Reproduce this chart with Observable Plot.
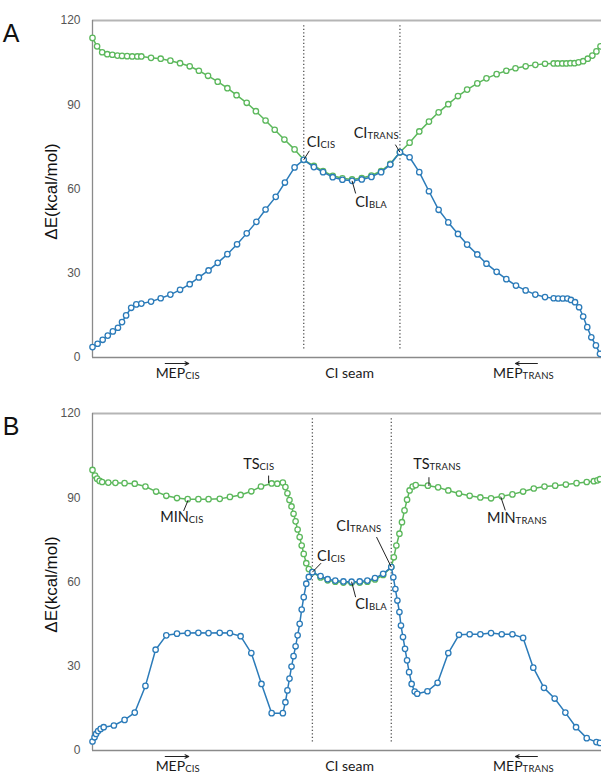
<!DOCTYPE html>
<html>
<head>
<meta charset="utf-8">
<script src="https://cdn.jsdelivr.net/npm/d3@7"></script>
<script src="https://cdn.jsdelivr.net/npm/@observablehq/plot@0.6"></script>
<style>
  html, body { margin: 0; padding: 0; background: #fff; }
  body { width: 601px; height: 774px; overflow: hidden; position: relative; }
  .panel { position: absolute; left: 0; }
</style>
</head>
<body>
<div id="panelA" class="panel" style="top:0px"></div>
<div id="panelB" class="panel" style="top:393px"></div>
<script>
// ---------- DATA ----------
// x: reaction coordinate (arbitrary units, 0..100); E: ΔE in kcal/mol
const yTicks = [0, 30, 60, 90, 120];

// Panel A
const aGreenX = [0,0.9,1.9,2.9,3.9,4.9,5.8,6.8,7.8,8.8,9.6,11.5,13.4,15.3,17.2,19.1,20.9,22.7,24.6,26.5,28.3,30.3,32.1,34.0,35.8,37.7,39.7,41.5,
  43.5,45.3,47.2,49.1,51.0,52.9,54.8,56.7,58.5,60.4,
  62.3,64.2,66.1,68.0,69.9,71.8,73.6,75.6,77.4,79.4,81.3,83.1,85.1,87.0,88.9,90.6,91.4,92.3,93.1,93.9,94.7,95.5,96.4,97.3,98.2,99.0,99.8];
const aGreenE = [113.8,110.8,108.7,108.0,107.8,107.5,107.4,107.3,107.2,107.2,107.2,106.7,106.4,105.7,104.8,103.7,102.1,100.3,98.2,95.9,93.4,90.7,87.7,84.4,81.1,77.6,74.1,70.4,
  68.2,66.4,64.7,63.8,63.4,63.9,64.8,66.4,69.0,73.1,
  76.5,80.5,84.0,87.3,90.2,93.1,95.4,97.6,99.4,100.9,102.1,103.0,103.7,104.2,104.6,104.7,104.7,104.7,104.7,104.8,104.8,105.1,105.5,106.4,107.5,109.0,110.8];
const aBlueX = [0,1.0,2.0,3.0,4.0,5.0,5.8,6.6,7.6,8.6,9.6,11.5,13.4,15.3,17.2,19.1,20.9,22.8,24.6,26.5,28.4,30.3,32.2,34.0,36.0,37.8,39.7,41.5,
  43.5,45.3,47.2,49.1,51.0,52.9,54.8,56.7,58.5,60.4,
  62.3,64.2,66.1,68.0,69.9,71.8,73.6,75.6,77.4,79.4,81.3,83.2,85.1,87.0,88.9,90.6,91.5,92.4,93.3,94.0,94.8,95.6,96.4,97.2,98.0,98.9,99.7];
const aBlueE = [3.7,4.9,6.3,7.8,9.3,10.6,12.6,15.0,17.7,18.9,19.2,19.9,21.1,22.4,24.1,26.1,28.5,31.0,33.7,36.8,40.3,44.2,48.3,52.7,57.2,62.3,67.7,70.4,
  67.8,66.0,64.2,63.3,62.9,63.4,64.3,66.0,68.7,73.1,
  71.3,66.0,59.2,52.6,48.1,44.0,40.2,36.7,33.4,30.5,27.9,25.6,23.9,22.4,21.5,21.1,21.0,21.0,21.0,20.5,19.7,17.9,14.6,10.8,7.2,4.3,1.3];
const aSeamX = [41.5, 60.4];

// Panel B
const bGreenX = [0,0.5,0.9,1.4,1.9,3.1,4.5,6.3,8.3,10.4,12.5,14.5,16.6,18.7,20.8,22.8,25.0,27.0,29.1,31.2,33.1,35.2,36.3,37.4,37.9,38.3,38.7,39.1,39.5,39.9,40.3,40.7,41.1,41.5,42.0,42.5,43.2,
  44.8,46.2,47.7,49.3,50.9,52.5,54.0,55.5,57.1,58.7,
  59.2,59.7,60.3,60.8,61.3,61.8,62.3,62.9,63.5,65.9,67.9,69.9,72.0,74.1,76.2,78.3,80.4,82.5,84.6,86.7,88.8,90.9,93.0,95.1,97.1,98.5,99.2,99.7];
const bGreenE = [99.9,97.9,96.8,96.0,95.6,95.4,95.3,95.2,95.0,94.0,92.2,90.7,89.9,89.5,89.5,89.5,89.6,90.3,91.0,92.3,94.0,95.1,95.0,95.4,93.8,91.6,89.2,86.9,84.3,81.6,78.7,76.0,73.0,70.0,66.7,64.6,63.5,
  61.6,60.6,60.1,59.8,59.7,59.8,60.1,60.9,62.5,65.3,
  68.8,73.0,77.2,81.3,85.5,89.3,92.6,94.0,94.5,94.3,93.7,92.6,91.5,90.7,90.1,89.8,90.5,91.2,92.2,93.3,94.0,94.3,94.7,95.2,95.6,95.9,96.2,96.6];
const bBlueX = [0,0.4,0.7,1.1,1.6,2.2,4.2,6.3,8.3,10.4,12.4,14.5,16.6,18.7,20.8,22.8,25.0,27.0,29.1,31.2,33.2,35.2,37.4,37.9,38.3,38.7,39.1,39.5,39.9,40.3,40.7,41.1,41.5,42.0,42.5,43.2,
  44.8,46.2,47.7,49.3,50.9,52.5,54.0,55.5,57.1,58.7,
  59.1,59.5,59.9,60.3,60.6,61.0,61.4,61.8,62.2,62.7,63.3,63.8,65.8,67.8,69.9,72.0,74.1,76.2,78.3,80.4,82.5,84.6,86.6,88.7,90.8,92.9,95.0,97.1,99.0,99.7];
const bBlueE = [3.2,4.7,5.9,6.9,7.7,8.3,8.9,10.9,13.5,23.0,35.9,41.0,41.6,41.8,41.9,41.8,41.9,41.8,40.7,34.7,23.7,13.3,13.3,17.2,21.4,25.6,29.9,33.6,37.1,41.0,45.1,50.2,54.6,59.4,61.8,63.5,
  62.1,61.0,60.5,60.2,60.1,60.2,60.5,61.4,62.9,65.3,
  61.7,57.5,53.4,49.3,44.5,40.4,36.2,32.1,27.9,23.7,21.0,20.2,21.1,24.1,34.7,41.2,41.4,41.4,41.8,41.4,41.4,40.1,29.5,22.3,18.5,13.5,8.3,4.4,3.0,2.7];
const bSeamX = [43.2, 58.7];

// Point labels (text anchor and leader line, in data coordinates)
const annA = [
  {base: "CI", sub: "CIS",   tx: 42.2, te: 74.6, x1: 41.5, e1: 70.4, x2: 42.6, e2: 73.6},
  {base: "CI", sub: "TRANS", tx: 51.4, te: 78.0, x1: 60.4, e1: 73.1, x2: 59.5, e2: 75.8},
  {base: "CI", sub: "BLA",   tx: 51.7, te: 53.4, x1: 51.0, e1: 62.9, x2: 51.7, e2: 58.4}
];
const annB = [
  {base: "TS",  sub: "CIS",   tx: 29.7, te: 100.0, x1: 34.6, e1: 95.2, x2: 34.6, e2: 97.9},
  {base: "MIN", sub: "CIS",   tx: 13.4, te: 81.2,  x1: 18.8, e1: 89.2, x2: 17.9, e2: 85.3},
  {base: "CI",  sub: "CIS",   tx: 44.2, te: 67.3,  x1: 43.2, e1: 63.5, x2: 44.9, e2: 66.7},
  {base: "CI",  sub: "TRANS", tx: 48.0, te: 78.0,  x1: 58.7, e1: 65.3, x2: 55.8, e2: 76.0},
  {base: "CI",  sub: "BLA",   tx: 51.7, te: 50.2,  x1: 50.9, e1: 60.1, x2: 51.7, e2: 54.6},
  {base: "TS",  sub: "TRANS", tx: 63.1, te: 100.1, x1: 66.1, e1: 94.2, x2: 66.1, e2: 97.3},
  {base: "MIN", sub: "TRANS", tx: 77.6, te: 80.8,  x1: 80.2, e1: 90.4, x2: 81.1, e2: 85.5}
];
// Bottom region labels
const regionLabels = [
  {base: "MEP", sub: "CIS",   tx: 12.5, anchor: "start"},
  {base: "CI seam", sub: "",  tx: 50.6, anchor: "middle"},
  {base: "MEP", sub: "TRANS", tx: 78.8, anchor: "start"}
];
const regionArrows = [
  {x1: 14.3, x2: 18.9},
  {x1: 87.4, x2: 83.1}
];
const yLabel = "ΔE(kcal/mol)";

// ---------- DRAWING ----------
const GREEN = "#5cb85c";
const BLUE = "#2b7bb9";
const series = (xs, es) => xs.map((x, i) => ({x, E: es[i]}));

function addLabel(svg, px, py, base, sub, anchor, size, subSize) {
  const t = svg.append("text")
    .attr("x", px).attr("y", py)
    .attr("text-anchor", anchor || "start")
    .attr("font-family", "Lato, 'Open Sans', sans-serif")
    .attr("font-size", size)
    .attr("fill", "#1a1a1a");
  t.append("tspan").text(base);
  if (sub) t.append("tspan").attr("font-size", subSize).attr("dy", 1).attr("letter-spacing", 0.2).text(sub);
}

function drawPanel(el, cfg) {
  const green = series(cfg.gx, cfg.ge);
  const blue = series(cfg.bx, cfg.be);
  const plot = Plot.plot({
    width: 601,
    height: cfg.height,
    marginTop: 20,
    marginBottom: cfg.height - 357,
    marginLeft: 92,
    marginRight: 0,
    style: {fontFamily: "'Liberation Sans', Arial, sans-serif", fontSize: "12px", color: "#555", background: "white", overflow: "visible"},
    x: {domain: [0, 100], axis: null},
    y: {domain: [0, 120], ticks: yTicks, tickSize: 0, tickPadding: 12, label: null},
    marks: [
      Plot.ruleY([120], {stroke: "#b5b5b5", strokeWidth: 1.8}),
      Plot.ruleY([0], {stroke: "#8a8a8a", strokeWidth: 1.3}),
      Plot.ruleX([0], {stroke: "#8a8a8a", strokeWidth: 1.3}),
      Plot.ruleX(cfg.seam, {y1: 3, y2: 118.5, stroke: "#555", strokeWidth: 1.3, strokeDasharray: "1.3,2.2"}),
      Plot.line(green, {x: "x", y: "E", stroke: GREEN, strokeWidth: 1.5}),
      Plot.dot(green, {x: "x", y: "E", r: 2.7, stroke: GREEN, fill: "white", strokeWidth: 1.3}),
      Plot.line(blue, {x: "x", y: "E", stroke: BLUE, strokeWidth: 1.5}),
      Plot.dot(blue, {x: "x", y: "E", r: 2.7, stroke: BLUE, fill: "white", strokeWidth: 1.3}),
      Plot.link(cfg.ann, {x1: "x1", y1: "e1", x2: "x2", y2: "e2", stroke: "#222", strokeWidth: 1}),
      Plot.arrow(regionArrows, {x1: "x1", x2: "x2", y1: 0, y2: 0, dy: 6, stroke: "#222", strokeWidth: 1.2, headLength: 5, headAngle: 50})
    ]
  });
  el.appendChild(plot);
  const sx = plot.scale("x").apply, sy = plot.scale("y").apply;
  const svg = d3.select(plot);
  for (const a of cfg.ann) addLabel(svg, sx(a.tx), sy(a.te), a.base, a.sub, "start", 14.5, 9.5);
  for (const r of regionLabels) addLabel(svg, sx(r.tx), sy(0) + 21, r.base, r.sub, r.anchor, 14, 9.5);
  svg.append("text")
    .attr("transform", `translate(57,${(20 + 357) / 2 + 3}) rotate(-90)`)
    .attr("text-anchor", "middle")
    .attr("font-family", "'Liberation Sans', Arial, sans-serif")
    .attr("font-size", 17)
    .attr("fill", "#111")
    .text(yLabel);
  svg.append("text")
    .attr("x", 11).attr("y", 42)
    .attr("font-family", "'Liberation Sans', Arial, sans-serif")
    .attr("font-size", 25)
    .attr("fill", "#111")
    .text(cfg.letter);
}

drawPanel(document.getElementById("panelA"), {
  letter: "A", height: 385, gx: aGreenX, ge: aGreenE, bx: aBlueX, be: aBlueE, seam: aSeamX, ann: annA
});
drawPanel(document.getElementById("panelB"), {
  letter: "B", height: 381, gx: bGreenX, ge: bGreenE, bx: bBlueX, be: bBlueE, seam: bSeamX, ann: annB
});
</script>
</body>
</html>
